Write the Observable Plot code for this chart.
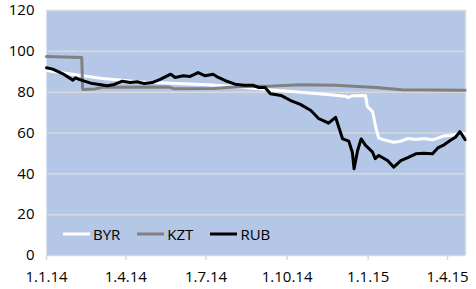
<!DOCTYPE html>
<html><head><meta charset="utf-8">
<script src="https://cdn.jsdelivr.net/npm/d3@7"></script>
<script src="https://cdn.jsdelivr.net/npm/@observablehq/plot@0.6"></script>
<style>
body{margin:0;background:#fff;}
#wrap{position:relative;width:476px;height:289px;font-family:"Open Sans",sans-serif;}
#legend{position:absolute;left:63px;top:224px;display:flex;align-items:center;font-size:15px;color:#000;line-height:20px;}
#legend .item{display:flex;align-items:center;margin-right:17px;}
#legend svg{margin-right:3px;}
#chart g[aria-label="x-axis tick"] path{stroke:#D9D9D9;stroke-width:1.5;}
</style></head>
<body><div id="wrap"><div id="chart"></div><div id="legend"></div></div>
<script>
const seriesNames = ["BYR", "KZT", "RUB"];
const seriesColors = ["#ffffff", "#808080", "#000000"];

const byrDates = ["2014-01-01","2014-03-03","2014-04-18","2014-05-10","2014-07-03","2014-08-05","2014-09-11","2014-10-16","2014-11-16","2014-12-06","2014-12-10","2014-12-14","2014-12-29","2014-12-31","2015-01-06","2015-01-10","2015-01-13","2015-01-20","2015-01-30","2015-02-07","2015-02-15","2015-02-24","2015-03-05","2015-03-15","2015-03-21","2015-03-27","2015-04-04","2015-04-12","2015-04-15","2015-04-21"];
const byrValues = [90.6,86.8,85.0,84.6,83.6,82.6,81.2,80.0,78.9,78.0,77.4,78.3,78.4,73.0,70.5,62.0,57.5,56.5,55.5,56.0,57.3,56.8,57.3,56.7,57.5,58.5,58.8,59.5,60.1,59.6];

const kztDates = ["2014-01-01","2014-02-10","2014-02-11","2014-02-25","2014-03-05","2014-05-20","2014-05-26","2014-07-10","2014-08-05","2014-09-15","2014-10-16","2014-11-25","2014-12-20","2015-01-10","2015-02-08","2015-04-21"];
const kztValues = [97.5,97.0,81.3,81.6,82.4,82.5,81.7,81.8,82.6,83.0,83.6,83.4,82.8,82.3,81.2,80.9];

const rubDates = ["2014-01-01","2014-01-08","2014-01-13","2014-01-19","2014-01-27","2014-01-31","2014-02-03","2014-02-07","2014-02-13","2014-02-22","2014-03-02","2014-03-11","2014-03-19","2014-03-28","2014-04-06","2014-04-14","2014-04-22","2014-05-01","2014-05-10","2014-05-22","2014-05-27","2014-06-05","2014-06-13","2014-06-22","2014-06-30","2014-07-09","2014-07-15","2014-07-23","2014-08-03","2014-08-13","2014-08-23","2014-08-30","2014-09-06","2014-09-12","2014-09-24","2014-10-05","2014-10-16","2014-10-28","2014-11-06","2014-11-11","2014-11-17","2014-11-25","2014-12-03","2014-12-10","2014-12-14","2014-12-16","2014-12-20","2014-12-24","2014-12-29","2015-01-06","2015-01-09","2015-01-13","2015-01-23","2015-01-30","2015-02-07","2015-02-15","2015-02-24","2015-03-05","2015-03-15","2015-03-21","2015-03-27","2015-04-04","2015-04-10","2015-04-15","2015-04-18","2015-04-21"];
const rubValues = [92.0,91.3,90.3,89.1,87.0,85.9,87.0,86.3,85.4,84.2,83.8,83.1,83.8,85.4,84.7,85.1,84.2,84.7,86.3,88.8,87.2,88.0,87.7,89.6,88.0,88.8,87.2,85.6,83.9,83.4,83.4,82.3,82.3,79.2,78.4,75.9,74.0,71.0,67.0,66.1,64.8,67.7,57.1,56.0,50.6,42.5,51.4,57.1,53.9,50.6,47.4,49.0,46.5,43.3,46.5,47.9,49.8,50.1,49.8,52.7,53.9,56.3,57.9,60.7,58.8,56.7];

const xTickDates = ["2014-01-01","2014-04-01","2014-07-01","2014-10-01","2015-01-01","2015-04-01"];
const xTickLabels = ["1.1.14","1.4.14","1.7.14","1.10.14","1.1.15","1.4.15"];
const yTicks = [0,20,40,60,80,100,120];

const xDomain = [new Date("2014-01-01T00:00Z"), new Date("2015-04-21T10:00Z")];

const parse = s => new Date(s + "T00:00Z");
const build = (name, dates, values) => dates.map((d, i) => ({series: name, date: parse(d), value: values[i]}));
const tables = [build("BYR", byrDates, byrValues), build("KZT", kztDates, kztValues), build("RUB", rubDates, rubValues)];
const tickDates = xTickDates.map(parse);

const chart = Plot.plot({
  width: 476, height: 289,
  marginLeft: 46, marginRight: 11, marginTop: 10, marginBottom: 34,
  style: {fontFamily: '"Open Sans", sans-serif', fontSize: "15px", color: "#000", background: "#fff"},
  x: {type: "utc", domain: xDomain, ticks: tickDates, tickFormat: d => xTickLabels[tickDates.findIndex(t => +t === +d)], tickSize: 5, tickPadding: 11, label: null},
  y: {domain: [0, 120], ticks: yTicks, tickSize: 0, tickPadding: 12, label: null},
  marks: [
    Plot.frame({fill: "#B4C7E7", stroke: null}),
    Plot.gridY(yTicks, {stroke: "#D9D9D9", strokeOpacity: 1, strokeWidth: 1.5}),
    Plot.ruleX([xDomain[1]], {stroke: "#D9D9D9", strokeWidth: 1.5}),
    ...tables.map((t, i) => Plot.line(t, {x: "date", y: "value", stroke: seriesColors[i], strokeWidth: 3, strokeLinejoin: "round"}))
  ]
});
document.getElementById("chart").appendChild(chart);

const legend = document.getElementById("legend");
seriesNames.forEach((n, i) => {
  const item = document.createElement("div");
  item.className = "item";
  item.innerHTML = `<svg width="27" height="6"><line x1="0" x2="27" y1="3" y2="3" stroke="${seriesColors[i]}" stroke-width="3"/></svg><span>${n}</span>`;
  legend.appendChild(item);
});
</script></body></html>
